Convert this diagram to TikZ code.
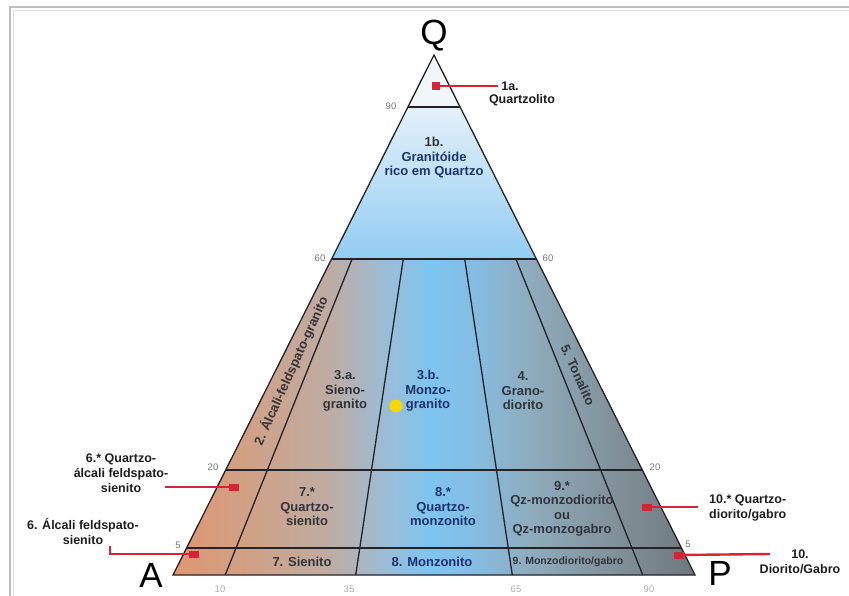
\documentclass[tikz,border=0pt]{standalone}
\usepackage{fontspec}
\setmainfont{Liberation Sans}
\usetikzlibrary{calc}
\definecolor{f1}{RGB}{224,150,112}
\definecolor{f2}{RGB}{208,161,134}
\definecolor{f3}{RGB}{190,172,163}
\definecolor{f4}{RGB}{152,190,218}
\definecolor{f5}{RGB}{126,196,240}
\definecolor{f6}{RGB}{132,190,228}
\definecolor{f7}{RGB}{142,172,190}
\definecolor{f8}{RGB}{130,146,154}
\definecolor{f9}{RGB}{110,120,126}
\definecolor{t1}{RGB}{228,241,250}
\definecolor{t2}{RGB}{145,204,242}
\definecolor{toppale}{RGB}{240,246,250}
\definecolor{linedark}{RGB}{35,35,40}
\definecolor{txtdark}{RGB}{50,52,58}
\definecolor{txtblue}{RGB}{28,52,110}
\definecolor{txtblack}{RGB}{30,30,30}
\definecolor{numgray}{RGB}{120,120,120}
\definecolor{numpale}{RGB}{175,175,175}
\definecolor{ptred}{RGB}{214,35,55}
\definecolor{dotyellow}{RGB}{250,215,0}
\definecolor{framegray}{RGB}{190,190,190}
\pgfdeclarehorizontalshading{qapfield}{100bp}{color(0bp)=(f1); color(25bp)=(f1); color(32.4bp)=(f2); color(40bp)=(f3); color(45.8bp)=(f4); color(49.6bp)=(f5); color(53.4bp)=(f6); color(59.2bp)=(f7); color(66.9bp)=(f8); color(75bp)=(f9); color(100bp)=(f9)}
\pgfdeclareverticalshading{qtop}{100bp}{color(0bp)=(t2); color(25bp)=(t2); color(75bp)=(t1); color(100bp)=(t1)}
\tikzset{
  bline/.style={draw=linedark, line width=1.3pt},
  fld/.style={font=\bfseries\fontsize{13}{14.5}\selectfont, align=center, inner sep=0pt, text=txtdark},
  fldblue/.style={fld, text=txtblue},
  sidelab/.style={font=\bfseries\fontsize{12.5}{15}\selectfont, align=center, inner sep=0pt, text=txtblack},
  numlab/.style={font=\fontsize{9.5}{10}\selectfont, text=numgray, inner sep=0pt},
  baselab/.style={font=\fontsize{9.5}{10}\selectfont, text=numpale, inner sep=0pt},
  vtx/.style={font=\fontsize{35}{35}\selectfont, inner sep=0pt, text=black},
  redline/.style={draw=ptred, line width=2.4pt},
  redmark/.style={fill=ptred, minimum width=10pt, minimum height=7pt, inner sep=0pt},
}
\begin{document}
\begin{tikzpicture}[x=1pt,y=-1pt]
\useasboundingbox (0,0) rectangle (849,596);
\fill[white] (0,0) rectangle (849,596);
% frame
\draw[framegray, line width=1.5pt] (10,596) -- (10,7) -- (849,7);
\draw[framegray!50, line width=0.8pt] (13,596) -- (13,10) -- (849,10);
% geometry
\coordinate (A) at (173,575);
\coordinate (P) at (695,575);
\coordinate (Q) at (434,55);
\coordinate (L90) at ($(A)!0.9!(Q)$);    \coordinate (R90) at ($(P)!0.9!(Q)$);
\coordinate (L60) at ($(A)!0.6077!(Q)$); \coordinate (R60) at ($(P)!0.6077!(Q)$);
\coordinate (L20) at ($(A)!0.2019!(Q)$); \coordinate (R20) at ($(P)!0.2019!(Q)$);
\coordinate (L5) at ($(A)!0.0519!(Q)$);  \coordinate (R5) at ($(P)!0.0519!(Q)$);
\coordinate (B10) at ($(A)!0.1!(P)$);
\coordinate (B35) at ($(A)!0.35!(P)$);
\coordinate (B65) at ($(A)!0.65!(P)$);
\coordinate (B90) at ($(A)!0.9!(P)$);
\coordinate (T10) at ($(B10)!0.6077!(Q)$);
\coordinate (T35) at ($(B35)!0.6077!(Q)$);
\coordinate (T65) at ($(B65)!0.6077!(Q)$);
\coordinate (T90) at ($(B90)!0.6077!(Q)$);
% fills
\fill[toppale] (Q) -- (L90) -- (R90) -- cycle;
\shade[shading=qtop] (L90) -- (R90) -- (R60) -- (L60) -- cycle;
\shade[shading=qapfield] (L60) -- (R60) -- (P) -- (A) -- cycle;
% lines
\draw[bline] (L90) -- (R90);
\draw[bline] (L60) -- (R60);
\draw[bline] (L20) -- (R20);
\draw[bline] (L5) -- (R5);
\draw[bline] (T10) -- (B10);
\draw[bline] (T35) -- (B35);
\draw[bline] (T65) -- (B65);
\draw[bline] (T90) -- (B90);
\draw[bline, line join=miter] (A) -- (Q) -- (P) -- cycle;
% vertices
\node[vtx] (vQ) at (434,36) {Q};
\node[vtx] (vA) at (151,575) {A};
\node[vtx] (vP) at (720,573) {P};
% scale numbers
\node[numlab] (n90) at (391,106) {90};
\node[numlab] (n60l) at (320,258) {60};
\node[numlab] (n60r) at (548,258) {60};
\node[numlab] (n20l) at (213,467) {20};
\node[numlab] (n20r) at (655,467) {20};
\node[numlab] (n5l) at (178,545) {5};
\node[numlab] (n5r) at (688,544) {5};
\node[baselab] (b10) at (220,589) {10};
\node[baselab] (b35) at (349,589) {35};
\node[baselab] (b65) at (516,589) {65};
\node[baselab] (b90) at (649,589) {90};
% field labels
\node[fld] (l1b) at (434,158) {1b.\\\textcolor{txtblue}{Granitóide}\\\textcolor{txtblue}{rico em Quartzo}};
\node[fld, rotate=65.7] (l2) at (291,371) {2. Álcali-feldspato-granito};
\node[fld] (l3a) at (345,391) {3.a.\\Sieno-\\granito};
\node[fldblue] (l3b) at (428,391) {3.b.\\Monzo-\\granito};
\node[fld] (l4) at (523,391) {4.\\Grano-\\diorito};
\node[fld, rotate=-65.7] (l5) at (578,375) {5. Tonalito};
\node[fld] (l7s) at (307,507) {7.*\\Quartzo-\\sienito};
\node[fldblue] (l8s) at (443,507) {8.*\\Quartzo-\\monzonito};
\node[fld] (l9s) at (562,509) {9.*\\Qz-monzodiorito\\ou\\Qz-monzogabro};
\node[fld] (l7) at (302,562) {7. Sienito};
\node[fldblue] (l8) at (432,562) {8. Monzonito};
\node[fld, font=\bfseries\fontsize{10.5}{12}\selectfont] (l9) at (568,562) {9. Monzodiorito/gabro};
\node[circle, fill=dotyellow, minimum size=13pt, inner sep=0pt] (dot) at (396,406) {};
% side labels
\node[sidelab] (s1a) at (510,86) {1a.};
\node[sidelab] (s1aname) at (522,100) {Quartzolito};
\node[sidelab] (s6s) at (121,473) {6.* Quartzo-\\álcali feldspato-\\sienito};
\node[sidelab] (s6) at (83,532) {6. Álcali feldspato-\\sienito};
\node[sidelab, align=left, anchor=west] (s10s) at (709,508) {10.* Quartzo-\\diorito/gabro};
\node[sidelab] (s10) at (800,562) {10.\\Diorito/Gabro};
% red pointers
\node[redmark, minimum width=8pt, minimum height=8pt] (m1a) at (436,86) {};
\node[redmark] (m6s) at (234,487) {};
\node[redmark] (m6) at (194,554) {};
\node[redmark] (m10s) at (647,507) {};
\node[redmark] (m10) at (679,555) {};
\coordinate (p6s) at (165,487);
\coordinate (p6) at (110,546);
\coordinate (q10s) at (698,507);
\coordinate (q10) at (770,554);
\draw[redline] (m1a.center) -- ([xshift=-3pt]s1a.west);
\draw[redline] (p6s) -- (m6s.center);
\draw[redline] (p6) |- (m6.center);
\draw[redline] (m10s.center) -- (q10s);
\draw[redline] (m10.center) -- (q10);
\end{tikzpicture}
\end{document}
